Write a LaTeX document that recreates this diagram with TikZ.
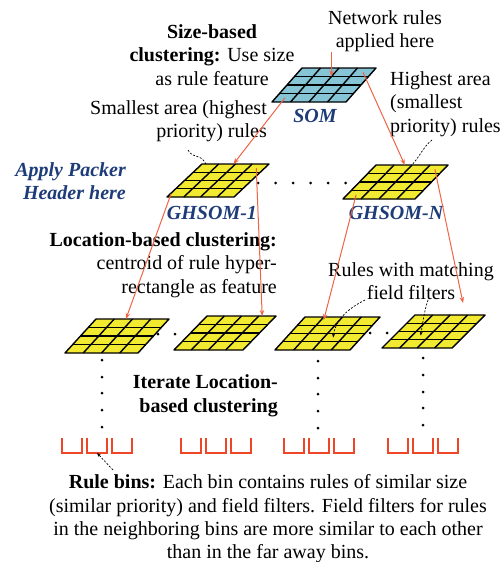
\documentclass[tikz,border=0pt]{standalone}
\usepackage{fontspec}
\setmainfont{Liberation Serif}
\usetikzlibrary{arrows.meta,calc}
\definecolor{somblue}{HTML}{86C5D6}
\definecolor{gyellow}{HTML}{F2EA30}
\definecolor{linkred}{HTML}{F06446}
\definecolor{labelblue}{HTML}{1E3C78}
\definecolor{binred}{HTML}{F04628}
\newcommand\lattice[7]{%
  \coordinate (#1-bl) at (#2,#3);
  \coordinate (#1-br) at ({#2+#4},#3);
  \coordinate (#1-tr) at ({#2+#4+#5},{#3-#6});
  \coordinate (#1-tl) at ({#2+#5},{#3-#6});
  \fill[#7] (#1-bl) -- (#1-br) -- (#1-tr) -- (#1-tl) -- cycle;
  \foreach \k in {1,2,3}{
    \draw[latline] ({#2+\k*#4/4},#3) -- ++(#5,-#6);
    \draw[latline] ({#2+\k*#5/4},{#3-\k*#6/4}) -- ++(#4,0);
  }
  \draw[latline] (#1-bl) -- (#1-br) -- (#1-tr) -- (#1-tl) -- cycle;
  \foreach \c in {1,2,3,4}{\foreach \r in {1,2,3,4}{
    \coordinate (#1-\c\r) at ({#2+(\c-0.5)*#4/4+(4.5-\r)*#5/4},{#3-(4.5-\r)*#6/4});
  }}
}
\newcommand\rulebin[3]{%
  \coordinate (#1) at ({#2+10},{#3+15});
  \draw[binline] (#2,#3) -- ++(0,15) -- ++(20,0) -- ++(0,-15);
}
\begin{document}
\begin{tikzpicture}[x=1pt,y=-1pt,
  every node/.style={font=\fontsize{20}{23.5}\selectfont, inner sep=0pt},
  latline/.style={line width=1.4pt, black, line join=round},
  link/.style={linkred, line width=1pt, -{Stealth[length=6pt,width=4.5pt]}},
  pointer/.style={black, line width=0.7pt, dash pattern=on 2pt off 1.6pt},
  binline/.style={binred, line width=1.8pt},
  bluelabel/.style={text=labelblue, font=\fontsize{20}{23.5}\selectfont\bfseries\itshape},
  dot/.style={circle, fill=black, minimum size=3pt, inner sep=0pt}]
\useasboundingbox[fill=white] (0,0) rectangle (502,562);

% grids
\lattice{som}{272}{102}{74}{30}{34}{somblue}
\lattice{g1}{167}{197}{67}{35}{33}{gyellow}
\lattice{gn}{343}{199}{72}{33}{34}{gyellow}
\lattice{l1}{65}{353}{73}{31}{34}{gyellow}
\lattice{l2}{174}{350}{69}{33}{34}{gyellow}
\lattice{l3}{275}{350}{75}{30}{33}{gyellow}
\lattice{l4}{382}{348}{70}{33}{33}{gyellow}

% texts
\node[align=center] (netrules) at (385,31) {Network rules\\applied here};
\node[align=center] (sizeclust) at (212,55) {\textbf{Size-based}\\\textbf{clustering:} Use size\\as rule feature};
\node[align=right, anchor=east] (smallest) at (267,121) {Smallest area (highest\\priority) rules};
\node[bluelabel] (somlabel) at (315,116) {SOM};
\node[align=left, anchor=west] (highest) at (390,104) {Highest area\\(smallest\\priority) rules};
\node[bluelabel, align=right, anchor=east] (apply) at (126,181) {Apply Packer\\Header here};
\node[bluelabel] (g1label) at (212,213) {GHSOM-1};
\node[bluelabel] (gnlabel) at (396,213) {GHSOM-N};
\node[align=right, anchor=east] (location) at (277,265) {\textbf{Location-based clustering:}\\centroid of rule hyper-\\rectangle as feature};
\node[align=center] (matching) at (411,281) {Rules with matching\\field filters};
\node[align=right, anchor=east, font=\fontsize{20}{23.5}\selectfont\bfseries] (iterate) at (278,396) {Iterate Location-\\based clustering};
\node[align=center, font=\fontsize{20}{23.3}\selectfont] (binstext) at (268,519) {\textbf{Rule bins:} Each bin contains rules of similar size\\(similar priority) and field filters. Field filters for rules\\in the neighboring bins are more similar to each other\\than in the far away bins.};

% bins
\rulebin{b1-1}{62}{438}\rulebin{b1-2}{87}{438}\rulebin{b1-3}{112}{438}
\rulebin{b2-1}{181}{438}\rulebin{b2-2}{206}{438}\rulebin{b2-3}{231}{438}
\rulebin{b3-1}{284}{438}\rulebin{b3-2}{309}{438}\rulebin{b3-3}{334}{438}
\rulebin{b4-1}{388}{438}\rulebin{b4-2}{413}{438}\rulebin{b4-3}{438}{438}

% dots
\foreach \x in {258,275.5,293,310.5,328,345.5} \node[dot] at (\x,183) {};
\node[dot] at (158,334) {};\node[dot] at (175,334) {};
\node[dot] at (370,333) {};\node[dot] at (387,333) {};
\foreach \y in {360,377,393,410,427} \node[dot] at (102,\y) {};
\foreach \y in {361,378,394,411,428} \node[dot] at (318,\y) {};
\foreach \y in {358,375,392,408,425} \node[dot] at (423,\y) {};

% red links
\coordinate (somhit) at ($(som-21)!0.5!(som-32)$);
\draw[link] (somhit |- netrules.south) -- (somhit);
\draw[link] (som-14) -- ($(g1-tl)!0.47!(g1-tr)$);
\draw[link] (som-41) -- ($(gn-tl)!0.4!(gn-tr)$);
\draw[link] ($(g1-bl)+(4,-3)$) -- ($(l1-tl)!0.41!(l1-tr)$);
\draw[link] (g1-41) -- ($(l2-tl)!0.8!(l2-tr)$);
\draw[link] (gn-14) -- ($(l3-tl)!0.25!(l3-tr)+(0,3)$);
\coordinate (gnfree) at (463,303);
\draw[link] (gn-41) -- (gnfree);

% pointers
\coordinate (smallptr) at (188,150);
\draw[pointer] (smallptr) .. controls (194,160) and (199,152) .. ($(g1-tl)!0.06!(g1-tr)$);
\coordinate (highptr) at (432,140);
\draw[pointer] (highptr) .. controls (424,146) and (420,156) .. ($(gn-tl)!0.5!(gn-tr)$);
\coordinate (match1) at (365,300);
\coordinate (match2) at (428,300);
\draw[pointer, -{Stealth[length=4pt,width=3pt]}] (match1) .. controls (345,310) and (335,322) .. (l3-33);
\draw[pointer, -{Stealth[length=4pt,width=3pt]}] (match2) .. controls (424,312) and (423,322) .. (l4-23);
\coordinate (binptr) at (113,470);
\draw[pointer, -{Stealth[length=4pt,width=3pt]}] (binptr) -- (b1-2);
\end{tikzpicture}
\end{document}
